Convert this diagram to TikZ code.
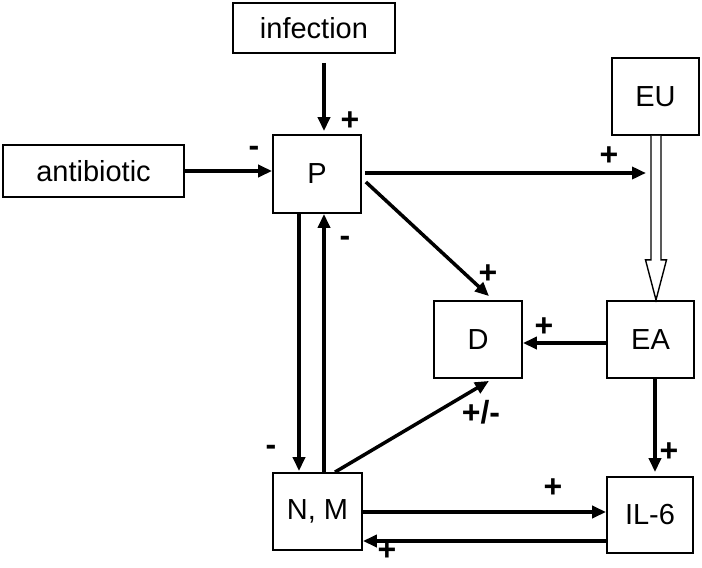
\documentclass[tikz,border=0pt]{standalone}
\usepackage{fontspec}
\setmainfont{Liberation Sans}
\usetikzlibrary{arrows.meta,calc}
\begin{document}
\begin{tikzpicture}[x=1pt,y=-1pt,
  box/.style={draw,line width=1.8pt,inner sep=0pt,fill=white,font=\fontsize{29}{33}\selectfont},
  arr/.style={line width=3.5pt,-{Triangle[length=14pt,width=12pt]}},
  sign/.style={inner sep=0pt,font=\bfseries\fontsize{32}{36}\selectfont},
  hollow/.style={line width=1.4pt,fill=white,line join=miter}]
\useasboundingbox[fill=white] (0,0) rectangle (702,568);

% boxes
\node[box,minimum width=162pt,minimum height=50pt] (inf) at (314,28) {infection};
\node[box,minimum width=181pt,minimum height=52pt] (anti) at (93.5,171) {antibiotic};
\node[box,minimum width=88pt,minimum height=78pt] (P) at (317,174) {P};
\node[box,minimum width=87pt,minimum height=77pt] (EU) at (655.5,96.5) {EU};
\node[box,minimum width=88pt,minimum height=77pt] (D) at (478,339.5) {D};
\node[box,minimum width=87pt,minimum height=77pt] (EA) at (650.5,339.5) {EA};
\node[box,minimum width=89pt,minimum height=77pt] (NM) at (317.5,511.5) {N, M};
\node[box,minimum width=86pt,minimum height=76pt] (IL) at (650,515) {IL-6};

% hollow arrow EU -> EA
\coordinate (hs) at ($(EU.south)+(0.5,0)$);
\draw[hollow] ($(hs)+(-5,0)$) -- ($(hs)+(-5,124)$) -- ($(hs)+(-10.5,124)$)
  -- ($(hs)+(0,164)$) -- ($(hs)+(10.5,124)$) -- ($(hs)+(5,124)$) -- ($(hs)+(5,0)$);

% connectors
\coordinate (euin) at (646,173);
\draw[arr] ($(inf.south)+(10,9)$) -- ($(P.north)+(7,-3)$);
\draw[arr] (anti.east) -- (anti.east -| P.west);
\draw[arr] ($(P.east)+(3,-1)$) -- (euin);
\draw[arr] ($(P.east)+(4,8)$) -- ($(D.north)+(11,-4)$);
\draw[arr] ($(EA.west)+(0,3.5)$) -- ($(D.east)+(0,3.5)$);
\draw[arr] ($(NM.north)+(17.5,0)$) -- ($(D.south)+(11,2)$);
\draw[arr] ($(P.south)+(-18,0)$) -- ($(NM.north)+(-18.5,-1)$);
\draw[arr] ($(NM.north)+(6.5,0)$) -- ($(P.south)+(7,0)$);
\draw[arr] ($(EA.south)+(4.5,0)$) -- ($(IL.north)+(5,-4)$);
\draw[arr] ($(NM.east)+(0,0.5)$) -- ($(IL.west)+(0,-3)$);
\draw[arr] ($(IL.west)+(0,26)$) -- ($(NM.east)+(0,29.5)$);

% signs
\node[sign] (s1) at (350,121) {+};
\node[sign] (s2) at (254,151) {-};
\node[sign] (s3) at (609,156) {+};
\node[sign] (s4) at (488,274) {+};
\node[sign] (s5) at (544,327) {+};
\node[sign] (s6) at (345,241) {-};
\node[sign] (s7) at (271,450) {-};
\node[sign] (s8) at (481,412) {+/-};
\node[sign] (s9) at (669,452) {+};
\node[sign] (s10) at (553,488) {+};
\node[sign] (s11) at (387,551) {+};
\end{tikzpicture}
\end{document}
